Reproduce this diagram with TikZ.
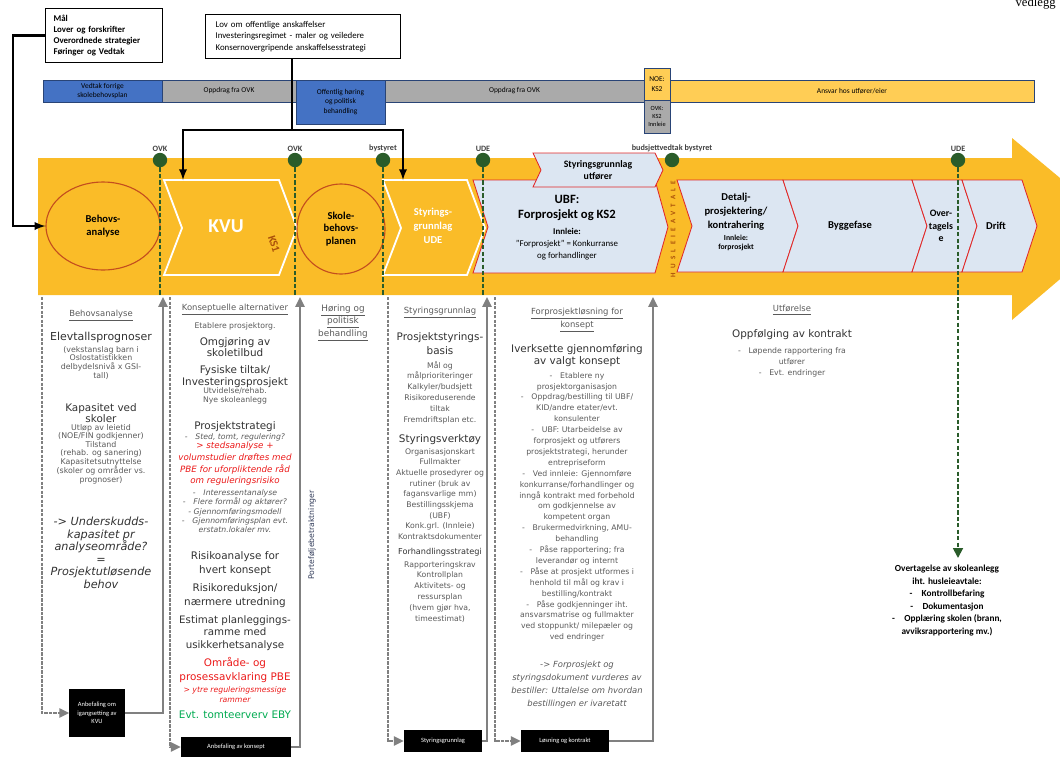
\documentclass[tikz,border=0pt]{standalone}
\usepackage{fontspec}
\setmainfont{Carlito}
\newfontfamily\gothic{DejaVu Sans}
\newfontfamily\serifv{Liberation Serif}
\usepackage{tikz}
\usetikzlibrary{shapes.geometric,arrows.meta}

\definecolor{band}{RGB}{250,188,40}
\definecolor{barblue}{RGB}{68,114,196}
\definecolor{bargray}{RGB}{170,170,170}
\definecolor{baryellow}{RGB}{255,205,85}
\definecolor{rim}{RGB}{196,78,30}
\definecolor{paleblue}{RGB}{220,230,242}
\definecolor{rimred}{RGB}{225,40,40}
\definecolor{milegreen}{RGB}{42,92,42}
\definecolor{txtgray}{RGB}{90,90,90}
\definecolor{txtdark}{RGB}{50,50,50}
\definecolor{redtxt}{RGB}{235,25,25}
\definecolor{greentxt}{RGB}{0,170,80}
\definecolor{linegray}{RGB}{128,128,128}
\definecolor{ksbrown}{RGB}{170,80,10}
\definecolor{portblue}{RGB}{50,60,90}

\tikzset{
  infobox/.style={draw=black, line width=0.8pt, fill=white, align=left, inner xsep=0.2cm, font=\bfseries\fontsize{6.3}{8}\selectfont},
  seg/.style={draw=barblue!60!black, line width=0.4pt, align=center, inner sep=0pt, font=\fontsize{5.3}{6.6}\selectfont},
  mile/.style={circle, fill=milegreen, inner sep=0pt, minimum size=0.36cm},
  milelabel/.style={font=\bfseries\fontsize{5.8}{7}\selectfont, text=black!75, inner sep=0.3pt},
  milestem/.style={milegreen, line width=1.3pt, dash pattern=on 3pt off 1.6pt},
  phase/.style={ellipse, draw=rim, line width=0.8pt, fill=band, align=center, font=\bfseries\fontsize{7.5}{9}\selectfont},
  whitechev/.style={draw=white, line width=1.3pt},
  bluechev/.style={fill=paleblue, draw=rimred, line width=0.6pt},
  chevtext/.style={align=center, inner sep=0pt, font=\bfseries\fontsize{7.5}{10}\selectfont},
  conn/.style={black, line width=1.6pt},
  loopdash/.style={linegray, line width=1.3pt, dash pattern=on 2.2pt off 1pt, -{Triangle[length=7pt,width=6.5pt]}},
  loopback/.style={linegray, line width=1.3pt, -{Triangle[length=7pt,width=6.5pt]}},
  blackbox/.style={fill=black, text=white, align=center, inner sep=1pt, font=\fontsize{4.6}{6}\selectfont},
  hdr/.style={anchor=north, align=center, inner sep=0pt, text=txtgray, font=\gothic\fontsize{6}{8}\selectfont},
  sm/.style={anchor=north, align=center, inner sep=0pt, text=txtgray, font=\gothic\fontsize{5.5}{7.7}\selectfont},
  md/.style={anchor=north, align=center, inner sep=0pt, text=txtdark, font=\gothic\fontsize{7.4}{9.5}\selectfont}
}

\begin{document}
\begin{tikzpicture}[x=0.025cm, y=-0.025cm]
    \useasboundingbox (0,0) rectangle (1060,758);

    % Page note, cut at the top
    \node[anchor=base east, inner sep=0pt, font=\serifv\fontsize{9}{10}\selectfont] (vedlegg) at (1056,6) {vedlegg};

    % Boxes with guidelines
    \node[infobox, anchor=north west, text width=2.525cm, minimum height=1.35cm] (mal) at (45,8)
        {Mål\\Lover og forskrifter\\Overordnede strategier\\Føringer og Vedtak};
    \node[infobox, anchor=north west, text width=4.375cm, minimum height=1.1cm, inner xsep=0.25cm, font=\fontsize{6.3}{8}\selectfont] (lov) at (205,14)
        {Lov om offentlige anskaffelser\\Investeringsregimet - maler og veiledere\\Konsernovergripende anskaffelsesstrategi};

    % Timeline bar
    \node[seg, fill=barblue, minimum width=2.975cm, minimum height=0.55cm] (s1) at (102.5,91) {Vedtak forrige\\skolebehovsplan};
    \node[seg, fill=bargray, minimum width=3.35cm, minimum height=0.55cm] (s2) at (229,91) {Oppdrag fra OVK};
    \node[seg, fill=bargray, minimum width=6.475cm, minimum height=0.55cm] (s4) at (514.5,91) {Oppdrag fra OVK};
    \node[seg, fill=barblue, minimum width=2.225cm, minimum height=1.1cm] (s3) at (340.5,102) {Offentlig høring\\og politisk\\behandling};
    \node[seg, fill=baryellow, minimum width=9.1cm, minimum height=0.55cm] (s7) at (852,91) {Ansvar hos utfører/eier};
    \node[seg, fill=baryellow, minimum width=0.65cm, minimum height=0.8cm] (s5) at (657,84) {NOE:\\KS2};
    \node[seg, fill=bargray, minimum width=0.65cm, minimum height=0.825cm, font=\fontsize{4.5}{6}\selectfont] (s6) at (657,116.5) {OVK:\\KS2\\Innleie};

    % Big process arrow
    \fill[band] (38,158) -- (1012,158) -- (1012,138) -- (1120,228) -- (1012,320) -- (1012,295) -- (38,295) -- cycle;

    % Phases in the arrow
    \node[phase, minimum width=2.85cm, minimum height=2.2cm] (behov) at (103,226) {Behovs-\\analyse};
    \draw[whitechev] (164,180) -- (279,180) -- (297,228) -- (279,275) -- (164,275) -- (182,228) -- cycle;
    \node[chevtext, text=white, font=\bfseries\fontsize{14}{16}\selectfont] (kvu) at (226,226) {KVU};
    \node[rotate=-72, text=ksbrown, inner sep=0pt, font=\bfseries\fontsize{8}{9}\selectfont] (ks1) at (274,244) {KS1};
    \node[phase, minimum width=2.2cm, minimum height=2.25cm] (skole) at (341,229) {Skole-\\behovs-\\planen};
    \draw[whitechev] (383,180) -- (467,180) -- (485,228) -- (467,275) -- (383,275) -- (401,228) -- cycle;
    \node[chevtext, text=white] (styrude) at (433,226) {Styrings-\\grunnlag\\UDE};

    \draw[bluechev] (473,180) -- (655,180) -- (668,227) -- (655,273) -- (473,273) -- (488,227) -- cycle;
    \draw[bluechev] (533,153) -- (655,153) -- (663,170) -- (655,187) -- (533,187) -- (541,170) -- cycle;
    \draw[bluechev] (677,180) -- (783,180) -- (798,226) -- (783,272) -- (677,272) -- (692,226) -- cycle;
    \draw[bluechev] (783,180) -- (912,180) -- (927,226) -- (912,272) -- (783,272) -- (798,226) -- cycle;
    \draw[bluechev] (912,180) -- (962,180) -- (977,226) -- (962,272) -- (912,272) -- (927,226) -- cycle;
    \draw[bluechev] (962,180) -- (1022,180) -- (1037,226) -- (1022,272) -- (962,272) -- (977,226) -- cycle;

    \node[chevtext, font=\bfseries\fontsize{7}{8.5}\selectfont] (styrutf) at (598,170) {Styringsgrunnlag\\utfører};
    \node[chevtext, font=\bfseries\fontsize{9}{10.7}\selectfont] (ubf) at (567,208) {UBF:\\Forprosjekt og KS2};
    \node[chevtext, font=\fontsize{6.3}{8.6}\selectfont] (innleie) at (567,244) {\textbf{Innleie:}\\"Forprosjekt" = Konkurranse\\og forhandlinger};
    \node[rotate=90, text=ksbrown, inner sep=0pt, font=\bfseries\fontsize{5}{6}\selectfont\addfontfeature{LetterSpace=60}] (husleie) at (673,229) {HUSLEIEAVTALE};
    \node[chevtext] (detalj) at (736,212) {Detalj-\\prosjektering/\\kontrahering};
    \node[chevtext, font=\bfseries\fontsize{5.5}{7}\selectfont] (detaljinn) at (736,243) {Innleie:\\forprosjekt};
    \node[chevtext] (bygg) at (850,226) {Byggefase};
    \node[chevtext, font=\bfseries\fontsize{7}{9}\selectfont] (over) at (941,226) {Over-\\tagels\\e};
    \node[chevtext] (drift) at (996,226) {Drift};

    % Connectors from the guideline boxes
    \coordinate (jog) at (13,226);
    \coordinate (split) at (292,130);
    \coordinate (kvuin) at (183,180);
    \coordinate (udein) at (403,180);
    \draw[conn, -latex] (mal.west) -| (jog) -- (behov.west);
    \draw[conn] (lov.south -| split) -- (split);
    \draw[conn, -latex] (split) -| (kvuin);
    \draw[conn, -latex] (split) -| (udein);

    % Milestones
    \node[mile, label={[milelabel]above:OVK}] (m1) at (160,160) {};
    \node[mile, label={[milelabel]above:OVK}] (m2) at (295,160) {};
    \node[mile, label={[milelabel]above:bystyret}] (m3) at (383,160) {};
    \node[mile, label={[milelabel]above:UDE}] (m4) at (483,160) {};
    \node[mile, label={[milelabel]above:budsjettvedtak bystyret}] (m5) at (672,160) {};
    \node[mile, label={[milelabel]above:UDE}] (m6) at (958,160) {};
    \coordinate (m1end) at (160,295);
    \coordinate (m2end) at (295,295);
    \coordinate (m3end) at (383,295);
    \coordinate (m4end) at (483,295);
    \coordinate (m6end) at (958,558);
    \draw[milestem] (m1.south) -- (m1end);
    \draw[milestem] (m2.south) -- (m2end);
    \draw[milestem] (m3.south) -- (m3end);
    \draw[milestem] (m4.south) -- (m4end);
    \draw[milestem, -{Triangle[length=7pt,width=7pt]}] (m6.south) -- (m6end);

    % Column 1: behovsanalyse
    \node[hdr] (h1) at (101,310) {\underline{Behovsanalyse}};
    \node[md, font=\gothic\fontsize{7.8}{9.5}\selectfont] (c1a) at (101,332) {Elevtallsprognoser};
    \node[sm, font=\gothic\fontsize{5.6}{6.1}\selectfont] (c1b) at (101,346) {(vekstanslag barn i\\Oslostatistikken\\delbydelsnivå x GSI-\\tall)};
    \node[md, font=\gothic\fontsize{7.4}{7.8}\selectfont] (c1c) at (101,403) {Kapasitet ved\\skoler};
    \node[sm, font=\gothic\fontsize{5.6}{6}\selectfont] (c1d) at (101,424) {Utløp av leietid\\(NOE/FIN godkjenner)\\Tilstand\\(rehab. og sanering)\\Kapasitetsutnyttelse\\(skoler og områder vs.\\prognoser)};
    \node[md, font=\gothic\itshape\fontsize{8}{8.9}\selectfont] (c1e) at (101,517) {-> Underskudds-\\kapasitet pr\\analyseområde?\\=\\Prosjektutløsende\\behov};

    % Column 2: konseptuelle alternativer
    \node[hdr] (h2) at (235,304) {\underline{Konseptuelle alternativer}};
    \node[sm] (c2a) at (235,322) {Etablere prosjektorg.};
    \node[md, font=\gothic\fontsize{7.4}{8.2}\selectfont] (c2b) at (235,337) {Omgjøring av\\skoletilbud};
    \node[md, font=\gothic\fontsize{7.4}{8.4}\selectfont] (c2c) at (235,365) {Fysiske tiltak/\\Investeringsprosjekt};
    \node[sm, font=\gothic\fontsize{5.5}{6.4}\selectfont] (c2d) at (235,387) {Utvidelse/rehab.\\Nye skoleanlegg};
    \node[md] (c2e) at (235,421) {Prosjektstrategi};
    \node[sm, font=\gothic\itshape\fontsize{5.5}{7}\selectfont] (c2f) at (235,433) {-\quad Sted, tomt, regulering?};
    \node[sm, text=redtxt, font=\gothic\itshape\fontsize{6.2}{8.3}\selectfont] (c2g) at (235,442) {> stedsanalyse +\\volumstudier drøftes med\\PBE for uforpliktende råd\\om reguleringsrisiko};
    \node[sm, font=\gothic\itshape\fontsize{5.5}{6.7}\selectfont] (c2h) at (235,489) {-\quad Interessentanalyse\\-\quad Flere formål og aktører?\\- Gjennomføringsmodell\\-\quad Gjennomføringsplan evt.\\erstatn.lokaler mv.};
    \node[md, font=\gothic\fontsize{7.4}{10.5}\selectfont] (c2i) at (235,551) {Risikoanalyse for\\hvert konsept};
    \node[md, font=\gothic\fontsize{7.4}{10.5}\selectfont] (c2j) at (235,583) {Risikoreduksjon/\\nærmere utredning};
    \node[md, font=\gothic\fontsize{7.3}{8.9}\selectfont] (c2k) at (235,615) {Estimat planleggings-\\ramme med\\usikkerhetsanalyse};
    \node[md, text=redtxt, font=\gothic\fontsize{7.4}{10}\selectfont] (c2l) at (235,657) {Område- og\\prosessavklaring PBE};
    \node[sm, text=redtxt, font=\gothic\itshape\fontsize{5.5}{7}\selectfont] (c2m) at (235,686) {> ytre reguleringsmessige\\rammer};
    \node[md, text=greentxt] (c2n) at (235,711) {Evt. tomteerverv EBY};

    % Column 3: høring
    \node[hdr, font=\gothic\fontsize{6.3}{9}\selectfont] (h3) at (343,304) {\underline{Høring og}\\\underline{politisk}\\\underline{behandling}};
    \node[rotate=90, text=portblue, inner sep=0pt, font=\gothic\fontsize{5.5}{7}\selectfont] (port) at (312,535) {Porteføljebetraktninger};

    % Column 4: styringsgrunnlag
    \node[hdr] (h4) at (440,307) {\underline{Styringsgrunnlag}};
    \node[md, font=\gothic\fontsize{7.4}{10}\selectfont] (c4a) at (440,332) {Prosjektstyrings-\\basis};
    \node[sm, font=\gothic\fontsize{5.5}{7.7}\selectfont] (c4b) at (440,361) {Mål og\\målprioriteringer\\Kalkyler/budsjett\\Risikoreduserende\\tiltak\\Fremdriftsplan etc.};
    \node[md] (c4c) at (440,434) {Styringsverktøy};
    \node[sm, font=\gothic\fontsize{5.5}{7.6}\selectfont] (c4d) at (440,448) {Organisasjonskart\\Fullmakter\\Aktuelle prosedyrer og\\rutiner (bruk av\\fagansvarlige mm)\\Bestillingsskjema\\(UBF)\\Konk.grl. (Innleie)\\Kontraktsdokumenter};
    \node[sm, text=txtdark, font=\gothic\fontsize{5.8}{7.6}\selectfont] (c4e) at (440,548) {Forhandlingsstrategi};
    \node[sm, font=\gothic\fontsize{5.5}{7.7}\selectfont] (c4f) at (440,561) {Rapporteringskrav\\Kontrollplan\\Aktivitets- og\\ressursplan\\(hvem gjør hva,\\timeestimat)};

    % Column 5: forprosjekt
    \node[hdr, font=\gothic\fontsize{6}{7.4}\selectfont] (h5) at (577,308) {\underline{Forprosjektløsning for}\\\underline{konsept}};
    \node[md, font=\gothic\fontsize{7.4}{8.6}\selectfont] (c5a) at (577,344) {Iverksette gjennomføring\\av valgt konsept};
    \node[sm, font=\gothic\fontsize{5.5}{7.75}\selectfont] (c5b) at (577,372) {-\quad Etablere ny\\prosjektorganisasjon\\-\quad Oppdrag/bestilling til UBF/\\KID/andre etater/evt.\\konsulenter\\-\quad UBF: Utarbeidelse av\\forprosjekt og utførers\\prosjektstrategi, herunder\\entrepriseform\\-\quad Ved innleie: Gjennomføre\\konkurranse/forhandlinger og\\inngå kontrakt med forbehold\\om godkjennelse av\\kompetent organ\\-\quad Brukermedvirkning, AMU-\\behandling\\-\quad Påse rapportering; fra\\leverandør og internt\\-\quad Påse at prosjekt utformes i\\henhold til mål og krav i\\bestilling/kontrakt\\-\quad Påse godkjenninger iht.\\ansvarsmatrise og fullmakter\\ved stoppunkt/ milepæler og\\ved endringer};
    \node[sm, font=\gothic\itshape\fontsize{6}{9.2}\selectfont] (c5c) at (577,661) {-> Forprosjekt og\\styringsdokument vurderes av\\bestiller: Uttalelse om hvordan\\bestillingen er ivaretatt};

    % Column 6: utførelse
    \node[hdr] (h6) at (792,305) {\underline{Utførelse}};
    \node[md] (c6a) at (792,329) {Oppfølging av kontrakt};
    \node[sm, font=\gothic\fontsize{5.5}{8}\selectfont] (c6b) at (792,347) {-\quad Løpende rapportering fra\\utfører\\-\quad Evt. endringer};

    % Handover text
    \node[anchor=north, align=center, inner sep=0pt, font=\bfseries\fontsize{6.6}{8.9}\selectfont] (overtak) at (947,565)
        {Overtagelse av skoleanlegg\\iht. husleieavtale:\\-\quad Kontrollbefaring\\-\quad Dokumentasjon\\-\quad Opplæring skolen (brann,\\avviksrapportering mv.)};

    % Decision boxes at the bottom
    \node[blackbox, minimum width=1.375cm, minimum height=1.2cm] (b1) at (97,713) {Anbefaling om\\igangsetting av\\KVU};
    \node[blackbox, minimum width=2.75cm, minimum height=0.5cm] (b2) at (236,747) {Anbefaling av konsept};
    \node[blackbox, minimum width=1.95cm, minimum height=0.55cm] (b3) at (443,741) {Styringsgrunnlag};
    \node[blackbox, minimum width=2.2cm, minimum height=0.55cm] (b4) at (565,741) {Løsning og kontrakt};

    % Loops of each column
    \coordinate (c1top) at (42,297);
    \coordinate (c1end) at (163,297);
    \coordinate (c2top) at (170,297);
    \coordinate (c2end) at (300,297);
    \coordinate (c4top) at (388,297);
    \coordinate (c4end) at (487,297);
    \coordinate (c5top) at (495,297);
    \coordinate (c5end) at (653,297);
    \draw[loopdash] (c1top) |- (b1.west);
    \draw[loopback] (b1.east) -| (c1end);
    \draw[loopdash] (c2top) |- (b2.west);
    \draw[loopback] (b2.east) -| (c2end);
    \draw[loopdash] (c4top) |- (b3.west);
    \draw[loopback] (b3.east) -| (c4end);
    \draw[loopdash] (c5top) |- (b4.west);
    \draw[loopback] (b4.east) -| (c5end);
\end{tikzpicture}
\end{document}
